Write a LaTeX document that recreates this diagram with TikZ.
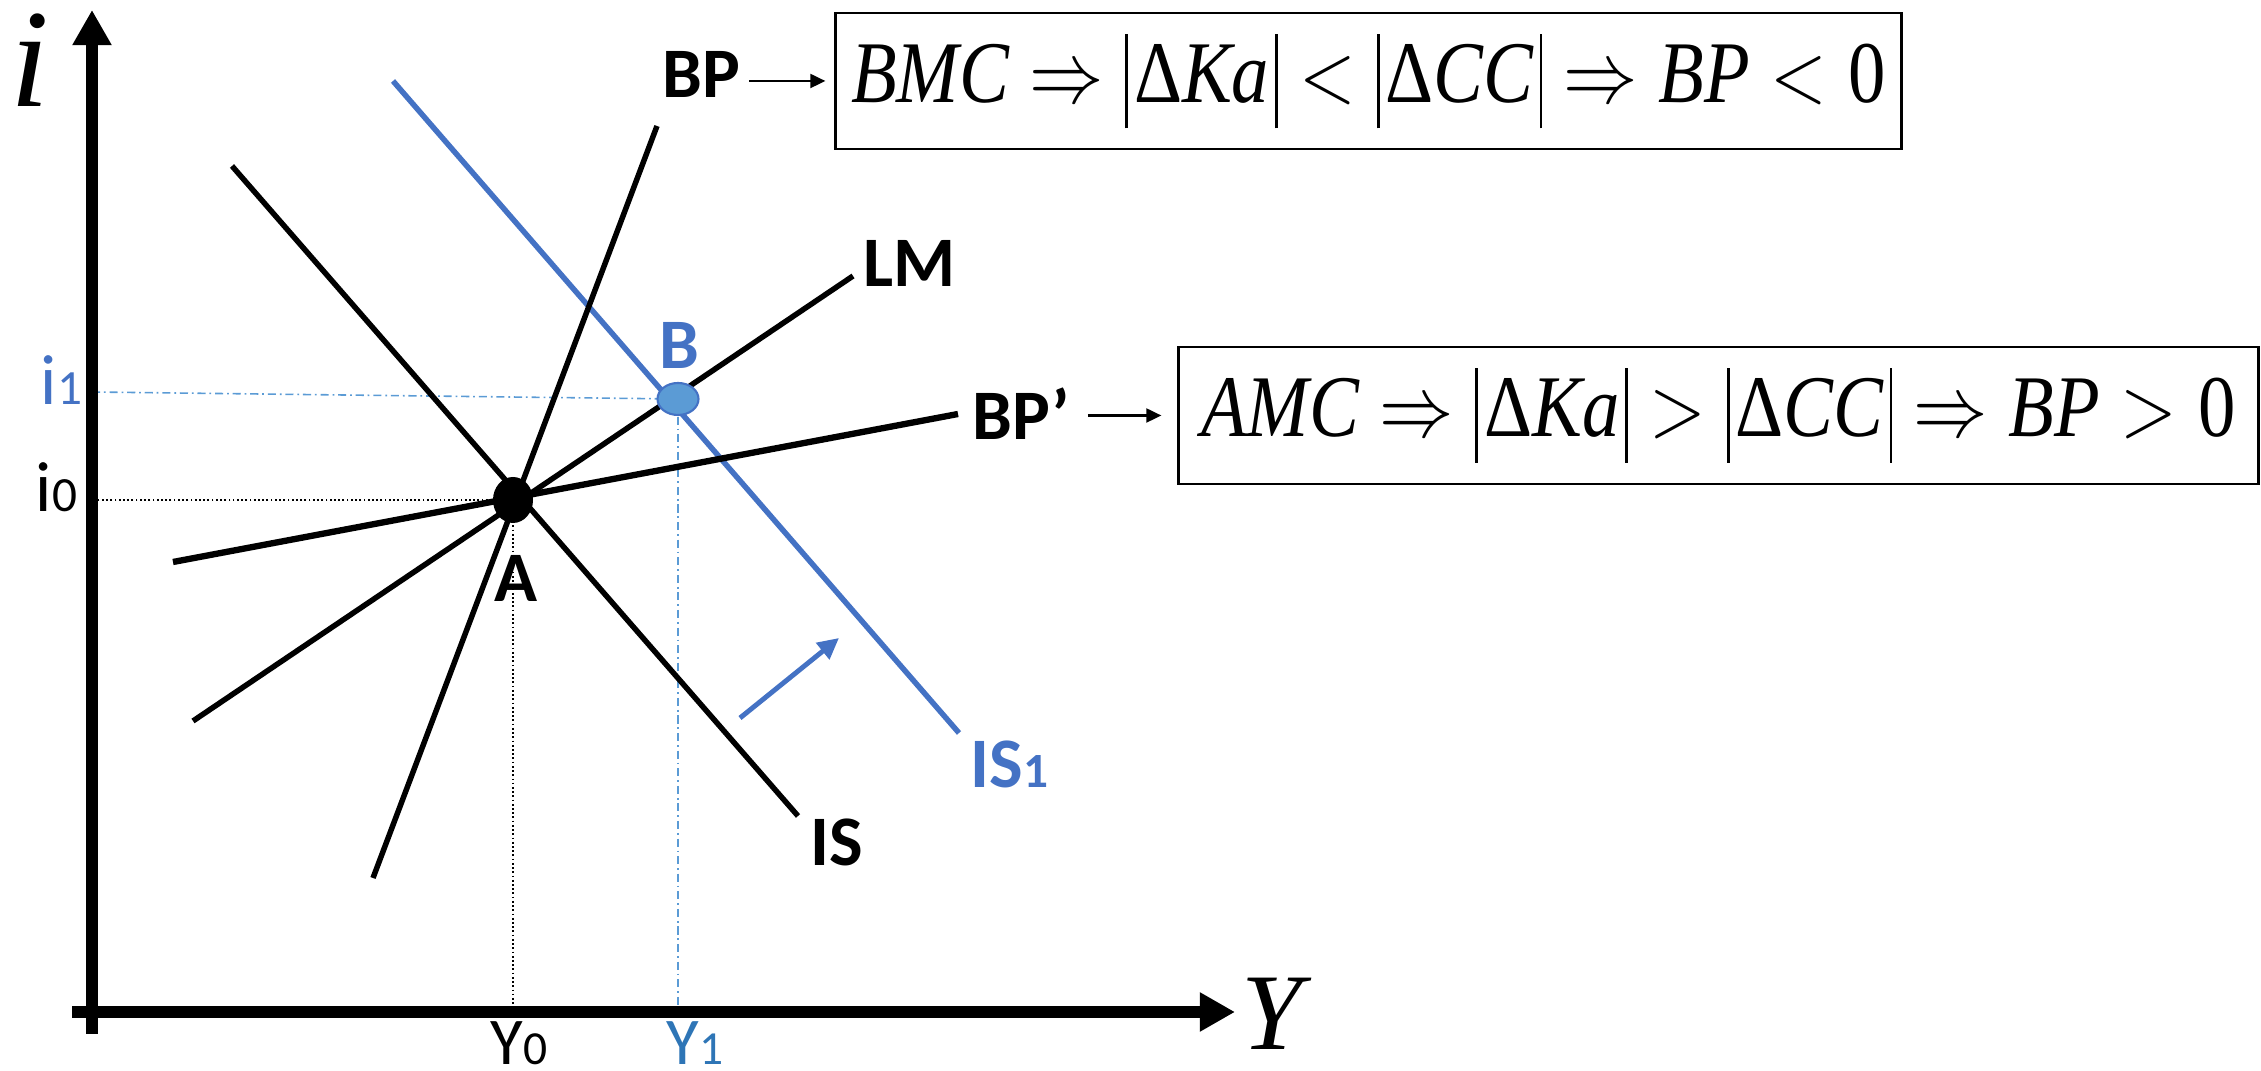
\documentclass[tikz,border=0pt]{standalone}
\usepackage[no-math]{fontspec}
\usepackage{graphicx}
\setmainfont{Liberation Serif}
\newfontfamily\carl{Carlito}
\usetikzlibrary{arrows.meta,calc,shapes.geometric}
\definecolor{ablue}{HTML}{4472C4}
\definecolor{lblue}{HTML}{5B9BD5}
\definecolor{yblue}{HTML}{2E75B6}
\newcommand\vb{\rule[-7.4pt]{1pt}{27pt}}
\newcommand\eqsp{\hspace{0.28em}}
\newcommand\sdig[1]{{\fontsize{14}{14}\selectfont #1}}
\newcommand\xdig[1]{{\fontsize{13.5}{14}\selectfont #1}}
\newcommand\eqsx{0.85}
\begin{document}
\begin{tikzpicture}[x=0.01cm,y=-0.01cm,
  curve/.style={line width=1.56pt},
  bluecurve/.style={line width=1.56pt, draw=ablue},
  axis/.style={line width=3.2pt,-{Triangle[length=10pt,width=10.5pt]}},
  lbl/.style={font=\carl\bfseries\fontsize{20.2}{24}\selectfont, inner sep=0pt},
  tick/.style={font=\carl\fontsize{20.2}{24}\selectfont, inner sep=0pt},
  xtick/.style={font=\carl\fontsize{19}{20}\selectfont, inner sep=0pt},
  eqbox/.style={draw, line width=0.75pt, inner sep=0pt, font=\itshape\fontsize{25}{28}\selectfont},
  ptr/.style={line width=0.6pt,-{Triangle[length=4.3pt,width=4pt]}},
  guide/.style={line width=0.45pt, dash pattern=on 0.5pt off 0.7pt},
  bguide/.style={line width=0.45pt, draw=lblue, dash pattern=on 2.3pt off 1.1pt on 0.5pt off 1.1pt},
]
\useasboundingbox (0,0) rectangle (2261,1071);

% axes
\coordinate (ytop) at (92,10);
\coordinate (ybot) at (92,1034);
\coordinate (xleft) at (72,1012);
\coordinate (xright) at (1235,1012);
\coordinate (i1) at (92,392);

% points (positions)
\coordinate (Ac) at (513,500);
\coordinate (Bc) at (678,399);

% guides
\draw[guide] (Ac) -- (Ac -| ybot);
\draw[guide] (Ac) -- (Ac |- xleft);
\draw[bguide] (i1) -- (Bc);
\draw[bguide] (Bc) -- (Bc |- xleft);

\draw[axis] (ybot) -- (ytop);
\draw[axis] (xleft) -- (xright);

% curves
\draw[curve] (232,166) -- (798,816);       % IS
\draw[bluecurve] (393,81) -- (959,733);    % IS1
\draw[curve] (193,721) -- (853,276);       % LM
\draw[curve] (373,878) -- (657,126);       % BP
\draw[curve, line width=1.8pt] (173,562) -- (958,414); % BP'
\draw[line width=1.4pt, draw=ablue, -{Triangle[length=6pt,width=5.8pt]}] (740,718) -- (839,638);

% equilibrium points
\node[ellipse, fill=black, inner sep=0pt, minimum width=0.40cm, minimum height=0.46cm] (A) at (Ac) {};
\node[ellipse, fill=lblue, draw=ablue, line width=0.6pt, inner sep=0pt, minimum width=0.41cm, minimum height=0.32cm] (B) at (Bc) {};

% axis labels
\node[font=\itshape\fontsize{39.8}{40}\selectfont, anchor=base, inner sep=0pt] (ilab) at (30,107) {i};
\node[font=\itshape\fontsize{31}{32}\selectfont, anchor=base, inner sep=0pt] (ylab) at (1272,1050) {Y};

% tick labels
\node[tick, anchor=base west, text=ablue] (i1lab) at (40,405) {i\sdig{1}};
\node[tick, anchor=base west] (i0lab) at (35,512) {i\sdig{0}};
\node[xtick, anchor=base west] (y0lab) at (490,1064) {Y\xdig{0}};
\node[xtick, anchor=base west, text=yblue] (y1lab) at (666,1064) {Y\xdig{1}};

% curve labels
\node[lbl, anchor=base west] (bp) at (662,98) {BP};
\node[lbl, anchor=base west] (lm) at (863,287) {LM};
\node[lbl, anchor=base, text=ablue] (blab) at (679,369) {B};
\node[lbl, anchor=base] (alab) at (516,602) {A};
\node[lbl, anchor=base west] (bpp) at (972,440) {BP’};
\node[lbl, anchor=base west] (islab) at (810,866) {IS};
\node[lbl, anchor=base west, text=ablue] (is1lab) at (970,788) {IS\sdig{1}};

% equation boxes
\node[eqbox, minimum width=10.65cm, minimum height=1.36cm] (box1) at (1368.5,81)
  {\scalebox{\eqsx}[1]{\textit{BMC}\eqsp$\Rightarrow$\eqsp\vb\hspace{2pt}\textup{Δ}\textit{Ka}\hspace{2pt}\vb\eqsp$<$\eqsp\vb\hspace{2pt}\textup{Δ}\textit{CC}\hspace{2pt}\vb\eqsp$\Rightarrow$\eqsp\textit{BP}\eqsp$<$\eqsp\textup{0}}};
\node[eqbox, minimum width=10.79cm, minimum height=1.37cm] (box2) at (1718.5,415.5)
  {\scalebox{\eqsx}[1]{\textit{AMC}\eqsp$\Rightarrow$\eqsp\vb\hspace{2pt}\textup{Δ}\textit{Ka}\hspace{2pt}\vb\eqsp$>$\eqsp\vb\hspace{2pt}\textup{Δ}\textit{CC}\hspace{2pt}\vb\eqsp$\Rightarrow$\eqsp\textit{BP}\eqsp$>$\eqsp\textup{0}}};

% pointers
\draw[ptr, shorten <=0.08cm, shorten >=0.09cm] (box1.west -| bp.east) -- (box1.west);
\draw[ptr, shorten <=0.17cm, shorten >=0.16cm] (box2.west -| bpp.east) -- (box2.west);
\end{tikzpicture}
\end{document}
